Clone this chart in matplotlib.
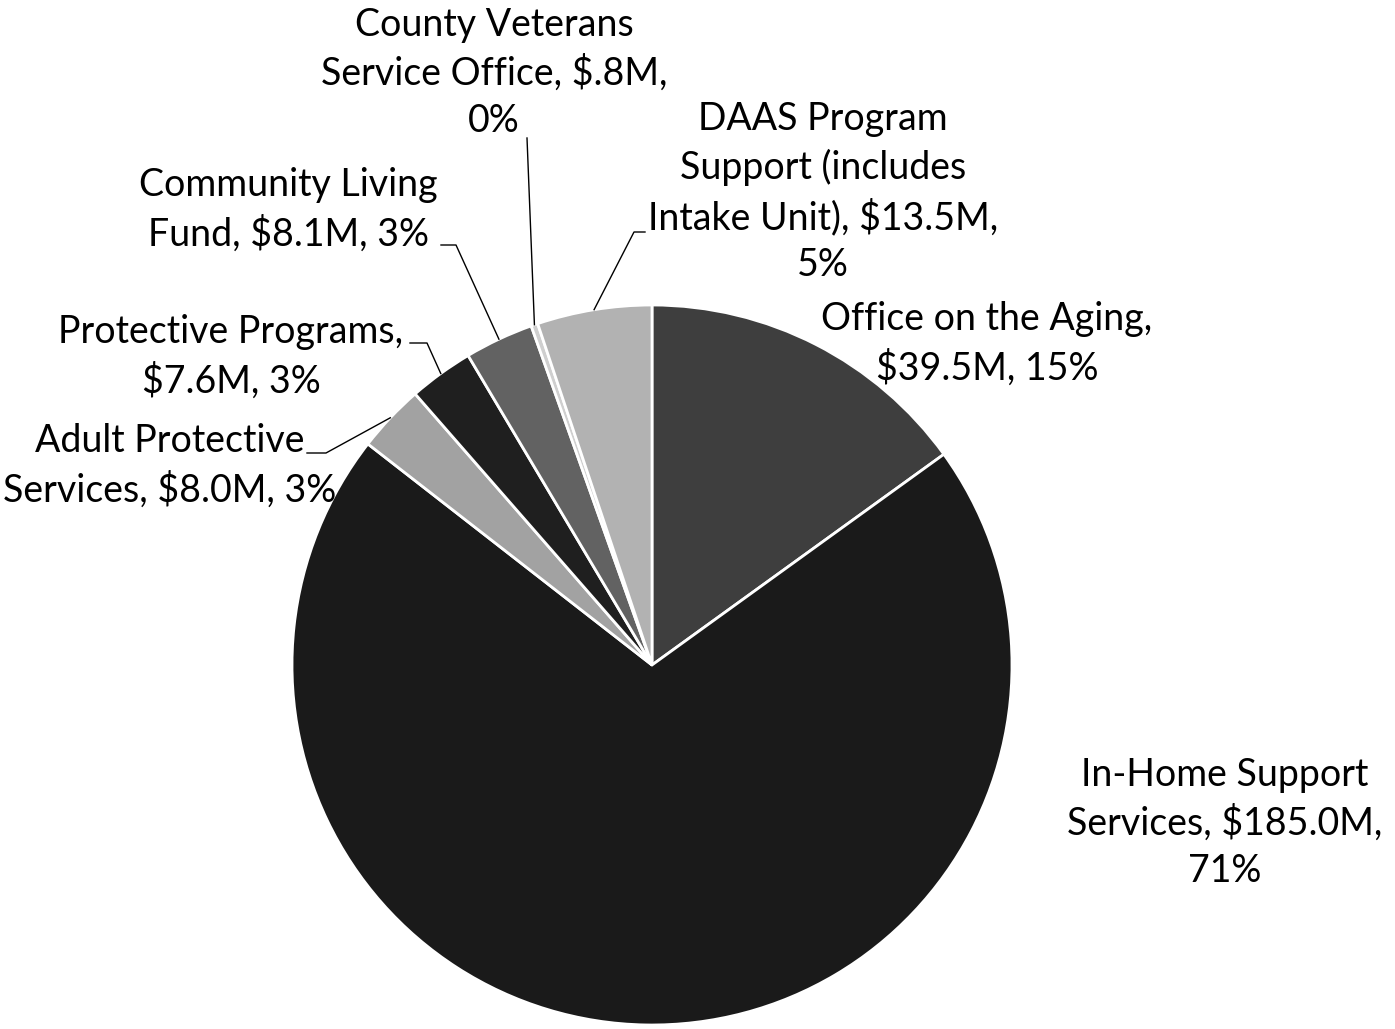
import numpy as np
import matplotlib.pyplot as plt

# data
labels = [
    "Office on the Aging,\n$39.5M, 15%",
    "In-Home Support\nServices, $185.0M,\n71%",
    "Adult Protective\nServices, $8.0M, 3%",
    "Protective Programs,\n$7.6M, 3%",
    "Community Living\nFund, $8.1M, 3%",
    "County Veterans\nService Office, $.8M,\n0%",
    "DAAS Program\nSupport (includes\nIntake Unit), $13.5M,\n5%",
]
values = [39.5, 185.0, 8.0, 7.6, 8.1, 0.8, 13.5]
colors = ["#3e3e3e", "#1a1a1a", "#a2a2a2", "#1f1f1f", "#626262", "#cfcfcf", "#b2b2b2"]

# layout in pixel units (origin at pie centre, y up)
W, H = 1395, 1029
CX, CY = 652, 665
R = 360

def px(x, y):
    return x - CX, CY - y

# text centre positions (pixels) and leader elbows (None = no leader)
text_pos = [(987, 344), (1225, 823), (170, 466), (231, 357), (288, 210), (494, 73), (823, 192)]
elbows = [None, None,
          [(307, 453), (326, 453)],
          [(410, 343), (427, 343)],
          [(441, 245), (456, 245)],
          [(527, 138)],
          [(645, 232), (634, 232)]]

plt.rcParams['font.family'] = ['Lato', 'DejaVu Sans']

fig = plt.figure(figsize=(W / 100, H / 100), dpi=100)
ax = fig.add_axes([0, 0, 1, 1])

wedges, _ = ax.pie(values, colors=colors, startangle=90, counterclock=False,
                   radius=R, center=(0, 0), frame=True,
                   wedgeprops=dict(edgecolor="white", linewidth=2))
ax.set_xlim(-CX, W - CX)
ax.set_ylim(-(H - CY), CY)
ax.set_aspect('equal')
ax.axis('off')

for w, lab, tp, el in zip(wedges, labels, text_pos, elbows):
    tx, ty = px(*tp)
    ax.text(tx, ty, lab, ha="center", va="center", fontsize=27,
            linespacing=1.4, color="black")
    if el is not None:
        mid = np.deg2rad((w.theta1 + w.theta2) / 2)
        end = (R * np.cos(mid), R * np.sin(mid))
        pts = [px(*p) for p in el] + [end]
        xs, ys = zip(*pts)
        ax.plot(xs, ys, color="black", linewidth=1)

fig.savefig("out.png", dpi=100)
